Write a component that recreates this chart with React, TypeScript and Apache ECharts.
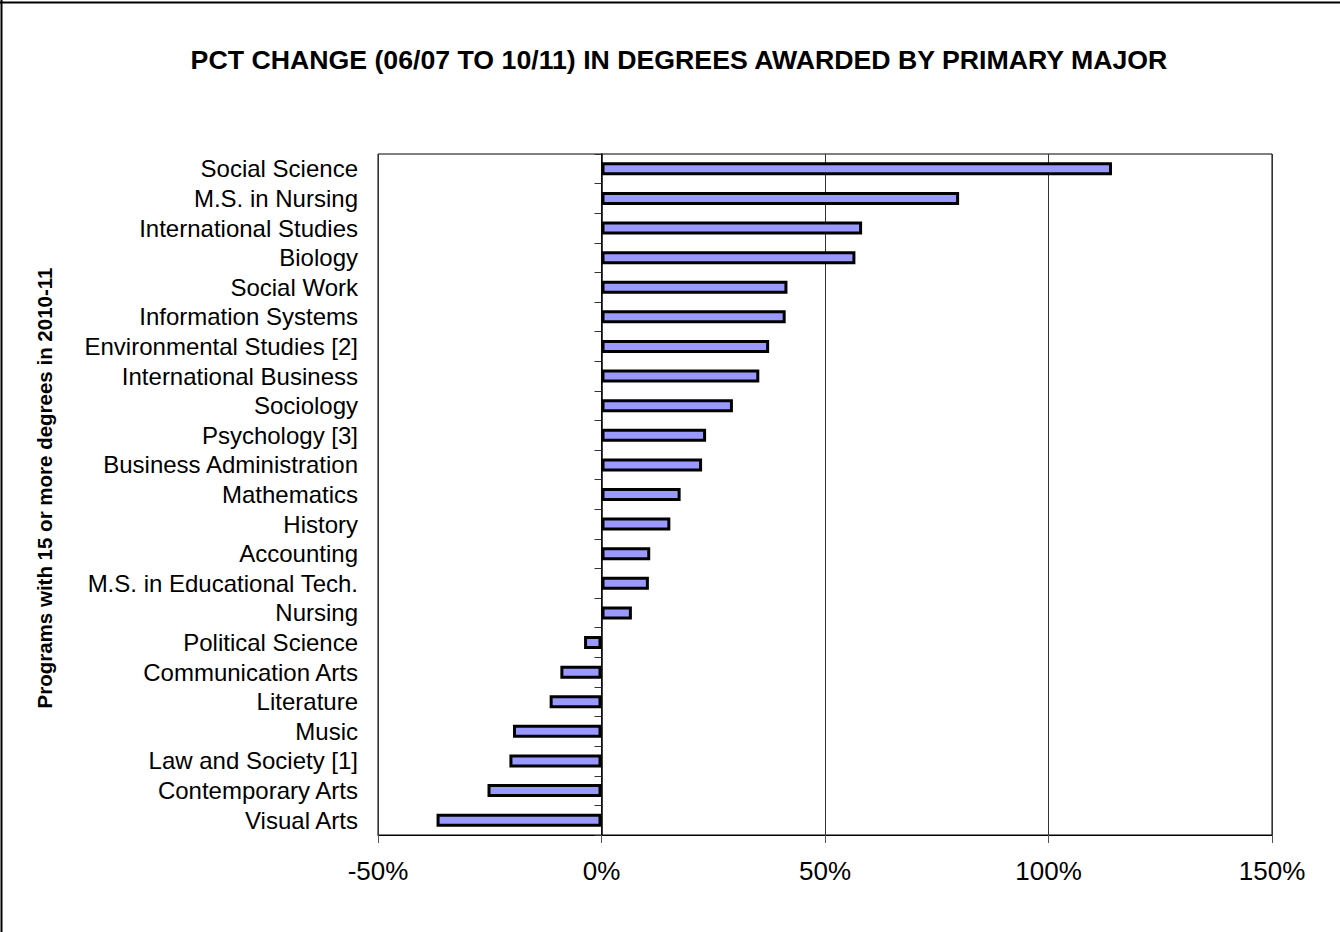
import React, { useEffect, useRef } from "react";
import * as echarts from "echarts";

const categories: string[] = [
  "Social Science",
  "M.S. in Nursing",
  "International Studies",
  "Biology",
  "Social Work",
  "Information Systems",
  "Environmental Studies [2]",
  "International Business",
  "Sociology",
  "Psychology [3]",
  "Business Administration",
  "Mathematics",
  "History",
  "Accounting",
  "M.S. in Educational Tech.",
  "Nursing",
  "Political Science",
  "Communication Arts",
  "Literature",
  "Music",
  "Law and Society [1]",
  "Contemporary Arts",
  "Visual Arts",
];

const pctChange: number[] = [
  114.2, 80.0, 58.3, 56.8, 41.6, 41.2, 37.5, 35.3, 29.4, 23.4, 22.5, 17.7, 15.4,
  10.9, 10.6, 6.8, -3.9, -9.2, -11.6, -19.8, -20.6, -25.5, -36.9,
];

const titleText = "PCT CHANGE (06/07 TO 10/11) IN DEGREES AWARDED BY PRIMARY MAJOR";
const axisTitle = "Programs with 15 or more degrees in 2010-11";

const FONT = "'Liberation Sans', Arial, sans-serif";

export default function App() {
  const ref = useRef<HTMLDivElement>(null);
  useEffect(() => {
    if (!ref.current) return;
    const chart = echarts.init(ref.current, null, { renderer: "svg" });
    chart.setOption({
      animation: false,
      backgroundColor: "#ffffff",
      textStyle: { fontFamily: FONT },
      title: {
        text: titleText,
        left: 674,
        top: 41,
        textAlign: "center",
        textStyle: { fontFamily: FONT, fontSize: 26.7, fontWeight: "bold", color: "#000" },
      },
      graphic: [
        { type: "line", shape: { x1: 1.5, y1: 0, x2: 1.5, y2: 932 }, style: { stroke: "#000", lineWidth: 2 } },
        { type: "line", shape: { x1: 0, y1: 2.5, x2: 1340, y2: 2.5 }, style: { stroke: "#000", lineWidth: 2 } },
        {
          type: "text",
          x: 44,
          y: 488,
          rotation: Math.PI / 2,
          style: {
            text: axisTitle,
            fontFamily: FONT,
            fontSize: 20.5,
            fontWeight: "bold",
            fill: "#000",
            align: "center",
            verticalAlign: "middle",
          },
        },
      ],
      grid: {
        left: 378,
        right: 68,
        top: 154,
        bottom: 97,
        show: true,
        borderColor: "#000",
        borderWidth: 1,
        containLabel: false,
      },
      xAxis: {
        type: "value",
        min: -50,
        max: 150,
        interval: 50,
        axisLine: { show: true, onZero: false, lineStyle: { color: "#000", width: 1 } },
        axisTick: { show: true, length: 8, lineStyle: { color: "#555" } },
        axisLabel: {
          formatter: (v: number) => `${v}%`,
          fontFamily: FONT,
          fontSize: 26,
          color: "#000",
          margin: 23,
        },
        splitLine: { show: true, lineStyle: { color: "#333", width: 1 } },
      },
      yAxis: [
        {
          type: "category",
          data: categories,
          inverse: true,
          position: "left",
          axisLine: { show: false, onZero: false },
          axisTick: { show: false },
          axisLabel: { interval: 0, fontFamily: FONT, fontSize: 24, color: "#000", margin: 20 },
        },
        {
          type: "category",
          data: categories,
          inverse: true,
          position: "left",
          axisLine: { show: true, onZero: true, lineStyle: { color: "#000", width: 1.5 } },
          axisTick: { show: true, interval: 0, length: 7, lineStyle: { color: "#333" } },
          axisLabel: { show: false },
          splitLine: { show: false },
        },
      ],
      series: [
        {
          type: "bar",
          data: pctChange,
          yAxisIndex: 0,
          barWidth: 13,
          itemStyle: { color: "#9999FF", borderColor: "#000", borderWidth: 3 },
          z: 1,
        },
      ],
    });
    return () => chart.dispose();
  }, []);
  return (
    <div
      ref={ref}
      style={{ position: "fixed", left: 0, top: 0, width: 1340, height: 932 }}
    />
  );
}
